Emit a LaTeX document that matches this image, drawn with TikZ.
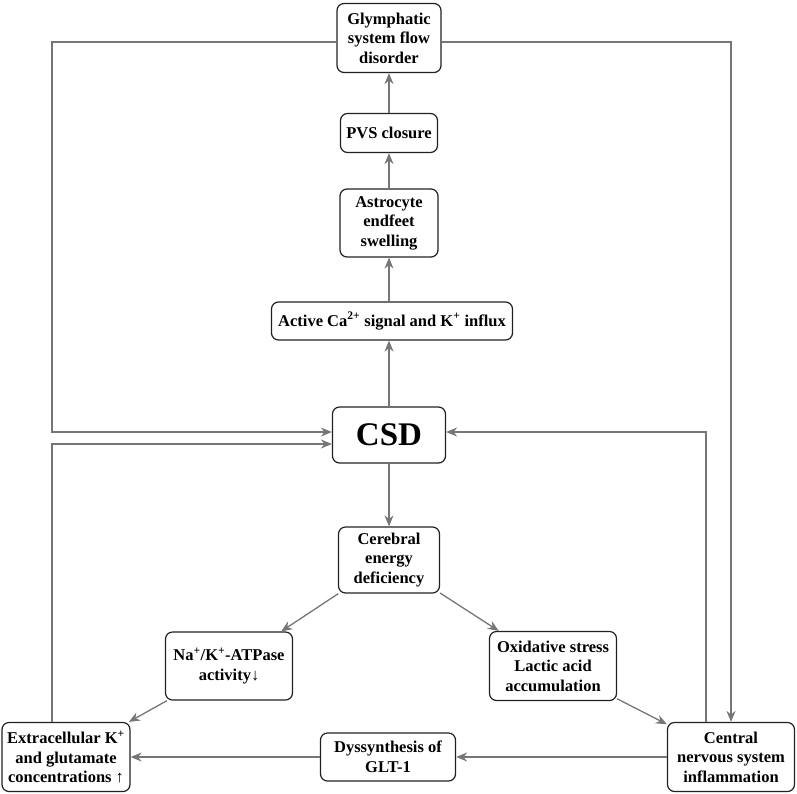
\documentclass[tikz,border=0pt]{standalone}
\usepackage{fontspec}
\setmainfont{Liberation Serif}
\usepackage{xcolor}
\usepackage{tikz}
\usetikzlibrary{arrows.meta,positioning,calc}
\definecolor{csdline}{HTML}{767676}
\definecolor{csdedge}{HTML}{222222}

\begin{document}
\begin{tikzpicture}[
    x=1pt, y=-1pt,
    box/.style={rectangle, rounded corners=7pt, draw=csdedge, fill=white, line width=1.2pt, align=center, inner sep=3pt, font=\fontsize{16.5}{19.5}\selectfont\bfseries},
    arr/.style={-{Stealth[length=11pt, width=9pt]}, line width=1.3pt, draw=csdline}
]
    \useasboundingbox (0,0) rectangle (797,793);

    % Upper chain
    \node (glym) [box, minimum width=104pt, minimum height=69pt] at (389,38) {Glymphatic\\system flow\\disorder};
    \node (pvs) [box, minimum width=97pt, minimum height=39pt] at (389,133) {PVS closure};
    \node (astro) [box, minimum width=98pt, minimum height=68pt] at (389,223) {Astrocyte\\endfeet\\swelling};
    \node (active) [box, minimum width=241pt, minimum height=38pt] at (392,321) {Active Ca\textsuperscript{2+} signal and K\textsuperscript{+} influx};

    % Centre
    \node (csd) [box, minimum width=113pt, minimum height=56pt, font=\fontsize{33}{36}\selectfont\bfseries] at (389,435) {CSD};

    % Lower triangle
    \node (cereb) [box, minimum width=101pt, minimum height=66pt] at (389,560) {Cerebral\\energy\\deficiency};
    \node (nak) [box, minimum width=127pt, minimum height=68pt] at (229,666) {Na\textsuperscript{+}/K\textsuperscript{+}-ATPase\\activity↓};
    \node (oxid) [box, minimum width=127pt, minimum height=69pt] at (553,666) {Oxidative stress\\Lactic acid\\accumulation};
    \node (extra) [box, minimum width=128pt, minimum height=69pt] at (66,757) {Extracellular K\textsuperscript{+}\\and glutamate\\concentrations ↑};
    \node (dyss) [box, minimum width=135pt, minimum height=48pt] at (388,757) {Dyssynthesis of\\GLT-1};
    \node (cns) [box, minimum width=127pt, minimum height=69pt] at (731,757) {Central\\nervous system\\inflammation};

    % Loop corners
    \coordinate (lft) at (52,42);

    % Connectors
    \draw [arr] (pvs) -- (glym);
    \draw [arr] (astro) -- (pvs);
    \draw [arr] (astro.south |- active.north) -- (astro);
    \draw [arr] (csd) -- (csd.north |- active.south);
    \draw [arr] (csd) -- (cereb);
    \draw [arr] (cereb) -- (nak);
    \draw [arr] (cereb) -- (oxid);
    \draw [arr] (nak) -- (extra);
    \draw [arr] (oxid) -- (cns);
    \draw [arr] (cns) -- (dyss);
    \draw [arr] (dyss) -- (extra);
    \draw [arr] (glym.west |- lft) -- (lft) |- ([yshift=3pt]csd.west);
    \draw [arr] (extra.north -| lft) |- ([yshift=-9pt]csd.west);
    \draw [arr] (glym.east |- lft) -| (cns.north);
    \draw [arr] ([xshift=-25pt]cns.north) |- ([yshift=3pt]csd.east);
\end{tikzpicture}
\end{document}
